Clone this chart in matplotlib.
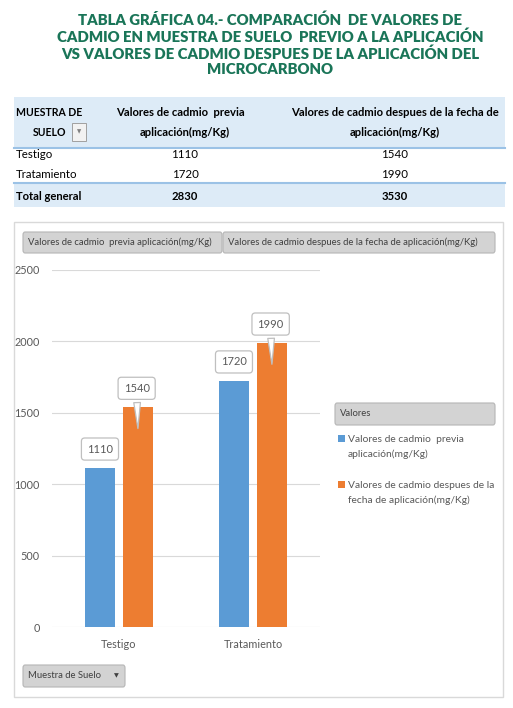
import matplotlib.pyplot as plt
from matplotlib.patches import Rectangle, FancyBboxPatch
import numpy as np

plt.rcParams['font.family'] = ['Lato', 'DejaVu Sans']

# data
categorias = ['Testigo', 'Tratamiento']
serie_previa = [1110, 1720]
serie_despues = [1540, 1990]
nombre_previa = 'Valores de cadmio  previa aplicación(mg/Kg)'
nombre_despues = 'Valores de cadmio despues de la fecha de aplicación(mg/Kg)'
titulo = ('TABLA GRÁFICA 04.- COMPARACIÓN  DE VALORES DE\n'
          'CADMIO EN MUESTRA DE SUELO  PREVIO A LA APLICACIÓN\n'
          'VS VALORES DE CADMIO DESPUES DE LA APLICACIÓN DEL\n'
          'MICROCARBONO')
total_previa = sum(serie_previa)
total_despues = sum(serie_despues)

azul = '#5B9BD5'
naranja = '#ED7D31'
gris_txt = '#595959'
W, H = 513, 708


def fx(x):
    return x / W


def fy(y):
    return 1 - y / H


def boton(fig, x0, y0, x1, y1, texto, size=6.8, flecha=False):
    p = FancyBboxPatch((fx(x0), fy(y1)), fx(x1) - fx(x0), fy(y0) - fy(y1),
                       boxstyle='round,pad=0,rounding_size=0.004',
                       transform=fig.transFigure, fc='#d3d3d3', ec='#b5b5b5', lw=0.8)
    fig.patches.append(p)
    fig.text(fx(x0 + 5), fy((y0 + y1) / 2), texto, fontsize=size, color='#404040',
             va='center', ha='left')
    if flecha:
        fig.text(fx(x1 - 9), fy((y0 + y1) / 2), '▼', fontsize=4.5, color='#404040',
                 va='center', ha='center', family='DejaVu Sans')


fig = plt.figure(figsize=(W / 100, H / 100), dpi=100)

# title
fig.text(fx(270), fy(44), titulo, ha='center', va='center', fontsize=10.7,
         fontweight='heavy', color='#1A7558', linespacing=1.2)

# table
fig.patches.append(Rectangle((fx(14), fy(148)), fx(505) - fx(14), fy(97) - fy(148),
                             transform=fig.transFigure, fc='#DDEBF7', ec='none'))
fig.patches.append(Rectangle((fx(14), fy(207)), fx(505) - fx(14), fy(183) - fy(207),
                             transform=fig.transFigure, fc='#DDEBF7', ec='none'))
for yl in (148, 183):
    fig.add_artist(plt.Line2D([fx(14), fx(505)], [fy(yl), fy(yl)], color='#9BC2E6', lw=1.5))

hdr = dict(fontsize=8.1, fontweight='bold', color='black', va='center')
fig.text(fx(16), fy(112), 'MUESTRA DE', ha='left', fontsize=7.6, fontweight='bold', va='center')
fig.text(fx(33), fy(132), 'SUELO', ha='left', fontsize=7.6, fontweight='bold', va='center')
fig.patches.append(Rectangle((fx(72), fy(141)), fx(86) - fx(72), fy(123) - fy(141),
                             transform=fig.transFigure, fc='#f2f2f2', ec='#a0a0a0', lw=0.7))
fig.text(fx(79), fy(132), '▼', fontsize=4, color='#808080', ha='center', va='center',
         family='DejaVu Sans')
fig.text(fx(180), fy(112), 'Valores de cadmio  previa', ha='center', **hdr)
fig.text(fx(185), fy(132), 'aplicación(mg/Kg)', ha='center', **hdr)
fig.text(fx(395), fy(112), 'Valores de cadmio despues de la fecha de', ha='center', **hdr)
fig.text(fx(395), fy(132), 'aplicación(mg/Kg)', ha='center', **hdr)

for i, cat in enumerate(categorias):
    yy = 155 + i * 19
    fig.text(fx(16), fy(yy), cat, fontsize=8.3, ha='left', va='center')
    fig.text(fx(185), fy(yy), str(serie_previa[i]), fontsize=8.3, ha='center', va='center')
    fig.text(fx(395), fy(yy), str(serie_despues[i]), fontsize=8.3, ha='center', va='center')
fig.text(fx(16), fy(196), 'Total general', ha='left', **hdr)
fig.text(fx(185), fy(196), str(total_previa), ha='center', **hdr)
fig.text(fx(395), fy(196), str(total_despues), ha='center', **hdr)

# chart frame
fig.patches.append(Rectangle((fx(14), fy(697)), fx(503) - fx(14), fy(222) - fy(697),
                             transform=fig.transFigure, fc='none', ec='#d9d9d9', lw=1))
boton(fig, 23, 232, 222, 253, nombre_previa)
boton(fig, 223, 232, 495, 253, nombre_despues)
boton(fig, 23, 665, 125, 687, 'Muestra de Suelo', flecha=True)
boton(fig, 335, 403, 495, 425, 'Valores')

# bars
ax = fig.add_axes([fx(52), fy(627), fx(320) - fx(52), fy(270) - fy(627)])
x = np.arange(len(categorias))
bw = 0.224
off = 0.142
ax.bar(x - off, serie_previa, bw, color=azul, zorder=2)
ax.bar(x + off, serie_despues, bw, color=naranja, zorder=2)
ax.set_xlim(-0.5, 1.5)
ax.set_ylim(0, 2500)
ax.set_yticks(np.arange(0, 2501, 500))
ax.yaxis.grid(True, color='#d9d9d9', lw=0.8, zorder=0)
ax.set_xticks(x)
ax.set_xticklabels(categorias)
ax.tick_params(length=0, labelsize=7.8, labelcolor=gris_txt)
ax.tick_params(axis='y', pad=9)
ax.tick_params(axis='x', pad=9)
for s in ax.spines.values():
    s.set_visible(False)
ax.set_facecolor('none')

caja = dict(boxstyle='round,pad=0.5,rounding_size=0.3', fc='white', ec='#bfbfbf', lw=0.9)
for i, v in enumerate(serie_previa):
    ax.annotate(str(v), (x[i] - off, v), xytext=(0, 14), textcoords='offset points',
                ha='center', va='center', fontsize=8, color=gris_txt, bbox=caja, zorder=4)
for i, v in enumerate(serie_despues):
    ax.annotate(str(v), (x[i] + off, v - 170), xytext=(-1, 31), textcoords='offset points',
                ha='center', va='center', fontsize=8, color=gris_txt, bbox=caja, zorder=4,
                arrowprops=dict(arrowstyle='wedge,tail_width=0.6,shrink_factor=0.5',
                                fc='white', ec='#bfbfbf', lw=0.9))

# legend
fig.patches.append(Rectangle((fx(338), fy(442)), fx(345) - fx(338), fy(435) - fy(442),
                             transform=fig.transFigure, fc=azul, ec='none'))
fig.text(fx(348), fy(447), 'Valores de cadmio  previa\naplicación(mg/Kg)', fontsize=7.4,
         color=gris_txt, va='center', ha='left', linespacing=1.6)
fig.patches.append(Rectangle((fx(338), fy(488)), fx(345) - fx(338), fy(481) - fy(488),
                             transform=fig.transFigure, fc=naranja, ec='none'))
fig.text(fx(348), fy(493), 'Valores de cadmio despues de la\nfecha de aplicación(mg/Kg)',
         fontsize=7.4, color=gris_txt, va='center', ha='left', linespacing=1.6)

fig.savefig('out.png', dpi=100)
